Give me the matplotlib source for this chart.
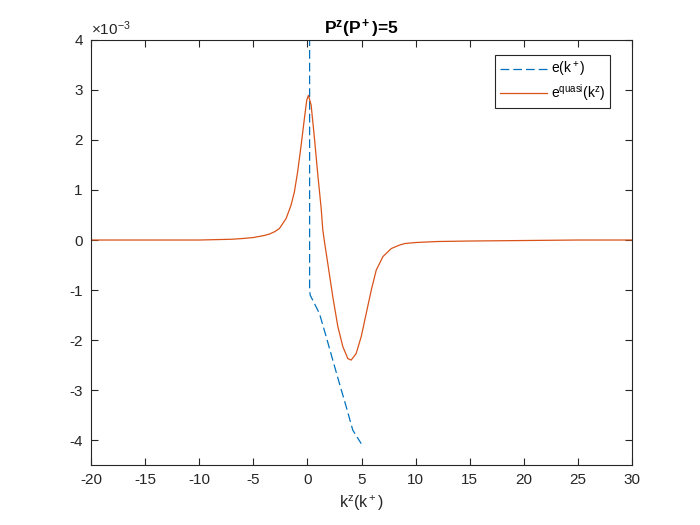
import matplotlib
matplotlib.use("Agg")
import matplotlib.pyplot as plt

# Estilo parecido al de MATLAB.
plt.rcParams["font.family"] = ["Liberation Sans", "DejaVu Sans"]
plt.rcParams["mathtext.fontset"] = "custom"
plt.rcParams["mathtext.rm"] = "Liberation Sans"
plt.rcParams["mathtext.it"] = "Liberation Sans"
plt.rcParams["mathtext.bf"] = "Liberation Sans:bold"
plt.rcParams["axes.unicode_minus"] = False

# Datos (valores de y en unidades de 1e-3).
k_plus = [0.2, 0.2, 0.25, 1.11, 1.73, 2.34, 2.96, 3.58, 4.19, 4.97]
e_plus = [60.0, -0.98, -1.1, -1.47, -1.93, -2.4, -2.87, -3.33, -3.8, -4.07]

k_z = [-20, -15, -10, -8, -7, -6, -5, -4, -3.5, -3, -2.59, -1.97, -1.51,
       -1.2, -0.9, -0.58, -0.28, -0.06, 0.09, 0.34, 0.65, 0.96, 1.27, 1.42,
       1.57, 1.88, 2.34, 2.81, 3.27, 3.73, 4.04, 4.5, 4.97, 5.43, 5.9,
       6.36, 6.98, 7.75, 8.52, 9.0, 10, 12, 15, 20, 25, 30]
e_quasi = [0, 0, 0, 0.01, 0.015, 0.03, 0.05, 0.09, 0.12, 0.17, 0.23, 0.43,
           0.70, 0.97, 1.37, 1.9, 2.43, 2.8, 2.89, 2.7, 2.03, 1.3, 0.63, 0.2,
           -0.03, -0.47, -1.13, -1.73, -2.13, -2.37, -2.4, -2.27, -1.93,
           -1.47, -1.0, -0.6, -0.33, -0.17, -0.1, -0.07, -0.05, -0.03, -0.02,
           -0.01, 0, 0]

x_ticks = [-20, -15, -10, -5, 0, 5, 10, 15, 20, 25, 30]
y_ticks = [-4, -3, -2, -1, 0, 1, 2, 3, 4]

gris = "#262626"

fig = plt.figure(figsize=(7, 5.25), dpi=100)
ax = fig.add_axes([0.13, 0.114, 0.773, 0.81])

ax.plot(k_plus, e_plus, color="#0072BD", lw=0.9, dashes=(7.0, 3.2),
        label=r"$\mathrm{e(k^+)}$")
ax.plot(k_z, e_quasi, color="#D95319", lw=0.9,
        label=r"$\mathrm{e^{quasi}(k^z)}$")

ax.set_xlim(-20, 30)
ax.set_ylim(-4.5, 4)
ax.set_xticks(x_ticks)
ax.set_yticks(y_ticks)
ax.tick_params(direction="in", top=True, right=True, length=5,
               labelsize=11, colors=gris, pad=6)
for s in ax.spines.values():
    s.set_color(gris)
    s.set_linewidth(0.8)

ax.set_title(r"$\mathbf{P^z(P^+)}$=5", fontsize=12.5, fontweight="bold",
             color="black", pad=4)
ax.set_xlabel(r"$\mathrm{k^z(k^+)}$", fontsize=11.5, color=gris, labelpad=4)
ax.text(0.0, 1.005, r"$\mathrm{\times10^{-3}}$", transform=ax.transAxes,
        fontsize=11, color=gris, ha="left", va="bottom")

leg = ax.legend(loc="upper right", bbox_to_anchor=(0.972, 0.98), fontsize=10,
                handlelength=3.4, handletextpad=0.3, borderpad=0.35,
                labelspacing=0.2, fancybox=False, framealpha=1)
leg.get_frame().set_edgecolor(gris)
leg.get_frame().set_linewidth(0.8)

fig.savefig("out.png", dpi=100)
